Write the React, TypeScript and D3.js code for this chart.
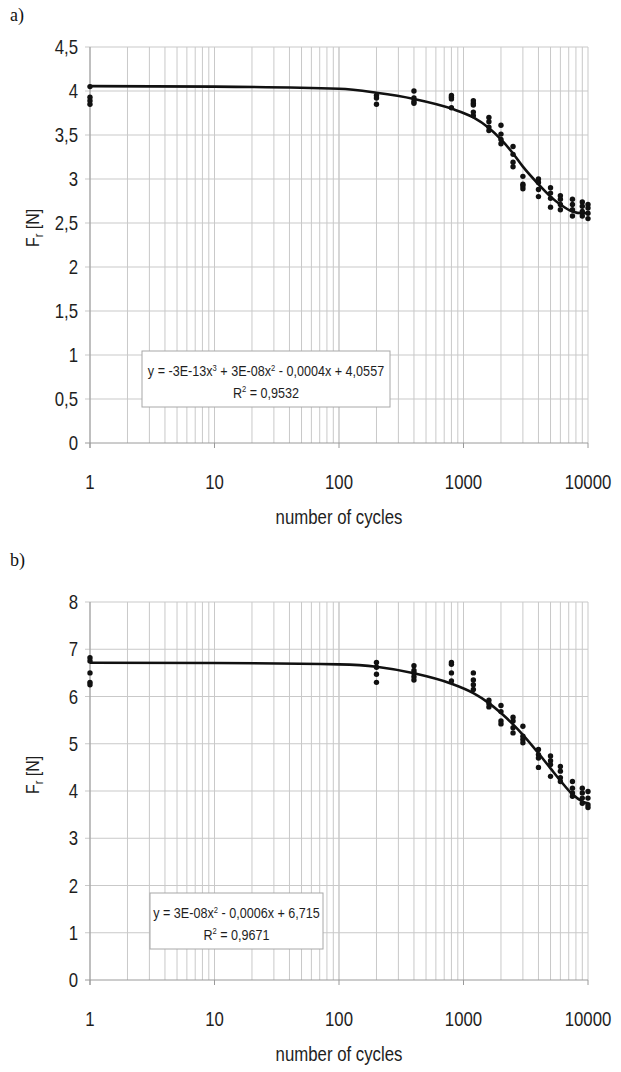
import React from "react";
import * as d3 from "d3";

const xTickValues = [1, 10, 100, 1000, 10000];
const xTickLabels = ["1", "10", "100", "1000", "10000"];

const cyclesA = [1, 200, 400, 800, 1200, 1600, 2000, 2500, 3000, 4000, 5000, 6000, 7500, 9000, 10000];
const forceA = [
  [4.05, 3.93, 3.89, 3.85],
  [3.95, 3.92, 3.85],
  [4.0, 3.92, 3.88, 3.86],
  [3.95, 3.93, 3.91, 3.81],
  [3.89, 3.86, 3.84, 3.76, 3.72],
  [3.7, 3.65, 3.59, 3.55],
  [3.61, 3.51, 3.45, 3.4],
  [3.37, 3.28, 3.19, 3.14],
  [3.03, 2.94, 2.92, 2.89],
  [3.0, 2.96, 2.88, 2.8],
  [2.9, 2.84, 2.78, 2.68],
  [2.81, 2.77, 2.71, 2.65],
  [2.77, 2.71, 2.65, 2.58],
  [2.74, 2.69, 2.63, 2.58],
  [2.71, 2.67, 2.61, 2.55],
];
const trendX = [1, 10, 100, 200, 400, 800, 1200, 1600, 2000, 2500, 3000, 4000, 5000, 6000, 7500, 9000, 10000];
const trendYA = [4.055, 4.05, 4.025, 3.98, 3.91, 3.8, 3.7, 3.58, 3.45, 3.29, 3.14, 2.94, 2.8, 2.71, 2.63, 2.61, 2.62];
const yTicksA = [0, 0.5, 1, 1.5, 2, 2.5, 3, 3.5, 4, 4.5];

const cyclesB = [1, 200, 400, 800, 1200, 1600, 2000, 2500, 3000, 4000, 5000, 6000, 7500, 9000, 10000];
const forceB = [
  [6.82, 6.75, 6.5, 6.3, 6.25],
  [6.72, 6.62, 6.47, 6.3],
  [6.65, 6.55, 6.5, 6.42, 6.35],
  [6.72, 6.68, 6.5, 6.33],
  [6.5, 6.35, 6.25, 6.15],
  [5.92, 5.85, 5.78],
  [5.81, 5.68, 5.48, 5.42],
  [5.56, 5.48, 5.34, 5.23],
  [5.37, 5.16, 5.09, 5.02],
  [4.88, 4.77, 4.7, 4.5],
  [4.74, 4.64, 4.56, 4.31],
  [4.52, 4.42, 4.28, 4.2],
  [4.2, 4.06, 3.96, 3.89],
  [4.06, 3.96, 3.85, 3.74],
  [3.99, 3.85, 3.71, 3.65],
];
const trendYB = [6.715, 6.71, 6.68, 6.63, 6.49, 6.27, 6.07, 5.86, 5.65, 5.41, 5.19, 4.8, 4.48, 4.22, 3.93, 3.78, 3.74];
const yTicksB = [0, 1, 2, 3, 4, 5, 6, 7, 8];

const SANS = "'Liberation Sans', Arial, Helvetica, sans-serif";
const SQUEEZE = 0.84;

function NText(props: {
  x: number;
  y: number;
  anchor?: "start" | "middle" | "end";
  size: number;
  rotate?: number;
  children: React.ReactNode;
}) {
  const { x, y, anchor = "middle", size, rotate = 0, children } = props;
  return (
    <text
      transform={`translate(${x},${y}) rotate(${rotate}) scale(${SQUEEZE},1)`}
      textAnchor={anchor}
      dy="0.36em"
      fontFamily={SANS}
      fontSize={size}
      fill="#1e1e1e"
    >
      {children}
    </text>
  );
}

type PanelProps = {
  label: string;
  labelY: number;
  top: number;
  bottom: number;
  yMax: number;
  yTicks: number[];
  cycles: number[];
  force: number[][];
  trendY: number[];
  legend: { parts: [string, string][]; r2: string };
  legendBox: { x: number; y: number; w: number; h: number };
  yLabelY: number;
};

function Panel(p: PanelProps) {
  const left = 90;
  const right = 588;
  const x = d3.scaleLog().domain([1, 10000]).range([left, right]);
  const y = d3.scaleLinear().domain([0, p.yMax]).range([p.bottom, p.top]);
  const minor: number[] = [];
  for (let dec = 1; dec < 10000; dec *= 10) {
    for (let k = 1; k <= 10; k++) minor.push(dec * k);
  }
  const fmt = (v: number) => String(v).replace(".", ",");
  const line = d3
    .line<number>()
    .x((_, i) => x(trendX[i]))
    .y((d) => y(d))
    .curve(d3.curveMonotoneX);
  const grid = "#c9c9c9";
  const { x: bx, y: by, w: bw, h: bh } = p.legendBox;
  return (
    <g>
      <text x={10} y={p.labelY} fontFamily="'Liberation Serif', 'Times New Roman', serif" fontSize={18} fill="#111">
        {p.label}
      </text>
      {minor.map((m, i) => (
        <line key={"v" + i} x1={x(m)} x2={x(m)} y1={p.top} y2={p.bottom} stroke={grid} strokeWidth={1} />
      ))}
      {p.yTicks.map((t, i) => (
        <line key={"h" + i} x1={left - 5} x2={right} y1={y(t)} y2={y(t)} stroke={t === 0 ? "#9a9a9a" : grid} strokeWidth={1} />
      ))}
      <line x1={left} x2={left} y1={p.top} y2={p.bottom + 5} stroke="#9a9a9a" strokeWidth={1} />
      {xTickValues.map((t, i) => (
        <line key={"xt" + i} x1={x(t)} x2={x(t)} y1={p.bottom} y2={p.bottom + 5} stroke="#9a9a9a" strokeWidth={1} />
      ))}
      {p.yTicks.map((t, i) => (
        <NText key={"yl" + i} x={78} y={y(t)} anchor="end" size={20}>
          {fmt(t)}
        </NText>
      ))}
      {xTickValues.map((t, i) => (
        <NText key={"xl" + i} x={x(t)} y={p.bottom + 39} size={20}>
          {xTickLabels[i]}
        </NText>
      ))}
      <NText x={(left + right) / 2} y={p.bottom + 74} size={20}>
        number of cycles
      </NText>
      <NText x={32} y={p.yLabelY} rotate={-90} size={19}>
        F<tspan fontSize={13} dy={4}>r</tspan>
        <tspan dy={-4}> [N]</tspan>
      </NText>
      <rect x={bx} y={by} width={bw} height={bh} fill="#fff" stroke="#a8a8a8" strokeWidth={1} />
      <NText x={bx + bw / 2} y={by + bh * 0.35} size={15}>
        {p.legend.parts.map(([base, sup], i) => (
          <React.Fragment key={i}>
            <tspan>{base}</tspan>
            {sup ? (
              <tspan fontSize={9} baselineShift="super">
                {sup}
              </tspan>
            ) : null}
          </React.Fragment>
        ))}
      </NText>
      <NText x={bx + bw / 2} y={by + bh * 0.74} size={15}>
        R<tspan fontSize={9} baselineShift="super">2</tspan>
        <tspan>{" = " + p.legend.r2}</tspan>
      </NText>
      <path d={line(p.trendY) || ""} fill="none" stroke="#111" strokeWidth={2.6} />
      {p.cycles.map((c, i) =>
        p.force[i].map((v, j) => <circle key={i + "-" + j} cx={x(c)} cy={y(v)} r={2.7} fill="#111" />)
      )}
    </g>
  );
}

export default function App() {
  return (
    <svg width={621} height={1072} style={{ position: "absolute", left: 0, top: 0, display: "block", background: "#fff" }}>
      <rect x={0} y={0} width={621} height={1072} fill="#fff" />
      <Panel
        label="a)"
        labelY={21}
        top={47}
        bottom={443}
        yMax={4.5}
        yTicks={yTicksA}
        cycles={cyclesA}
        force={forceA}
        trendY={trendYA}
        legend={{
          parts: [
            ["y = -3E-13x", "3"],
            [" + 3E-08x", "2"],
            [" - 0,0004x + 4,0557", ""],
          ],
          r2: "0,9532",
        }}
        legendBox={{ x: 142, y: 351, w: 248, h: 56 }}
        yLabelY={228}
      />
      <Panel
        label="b)"
        labelY={566}
        top={602}
        bottom={980}
        yMax={8}
        yTicks={yTicksB}
        cycles={cyclesB}
        force={forceB}
        trendY={trendYB}
        legend={{
          parts: [
            ["y = 3E-08x", "2"],
            [" - 0,0006x + 6,715", ""],
          ],
          r2: "0,9671",
        }}
        legendBox={{ x: 150, y: 893, w: 173, h: 56 }}
        yLabelY={775}
      />
    </svg>
  );
}
